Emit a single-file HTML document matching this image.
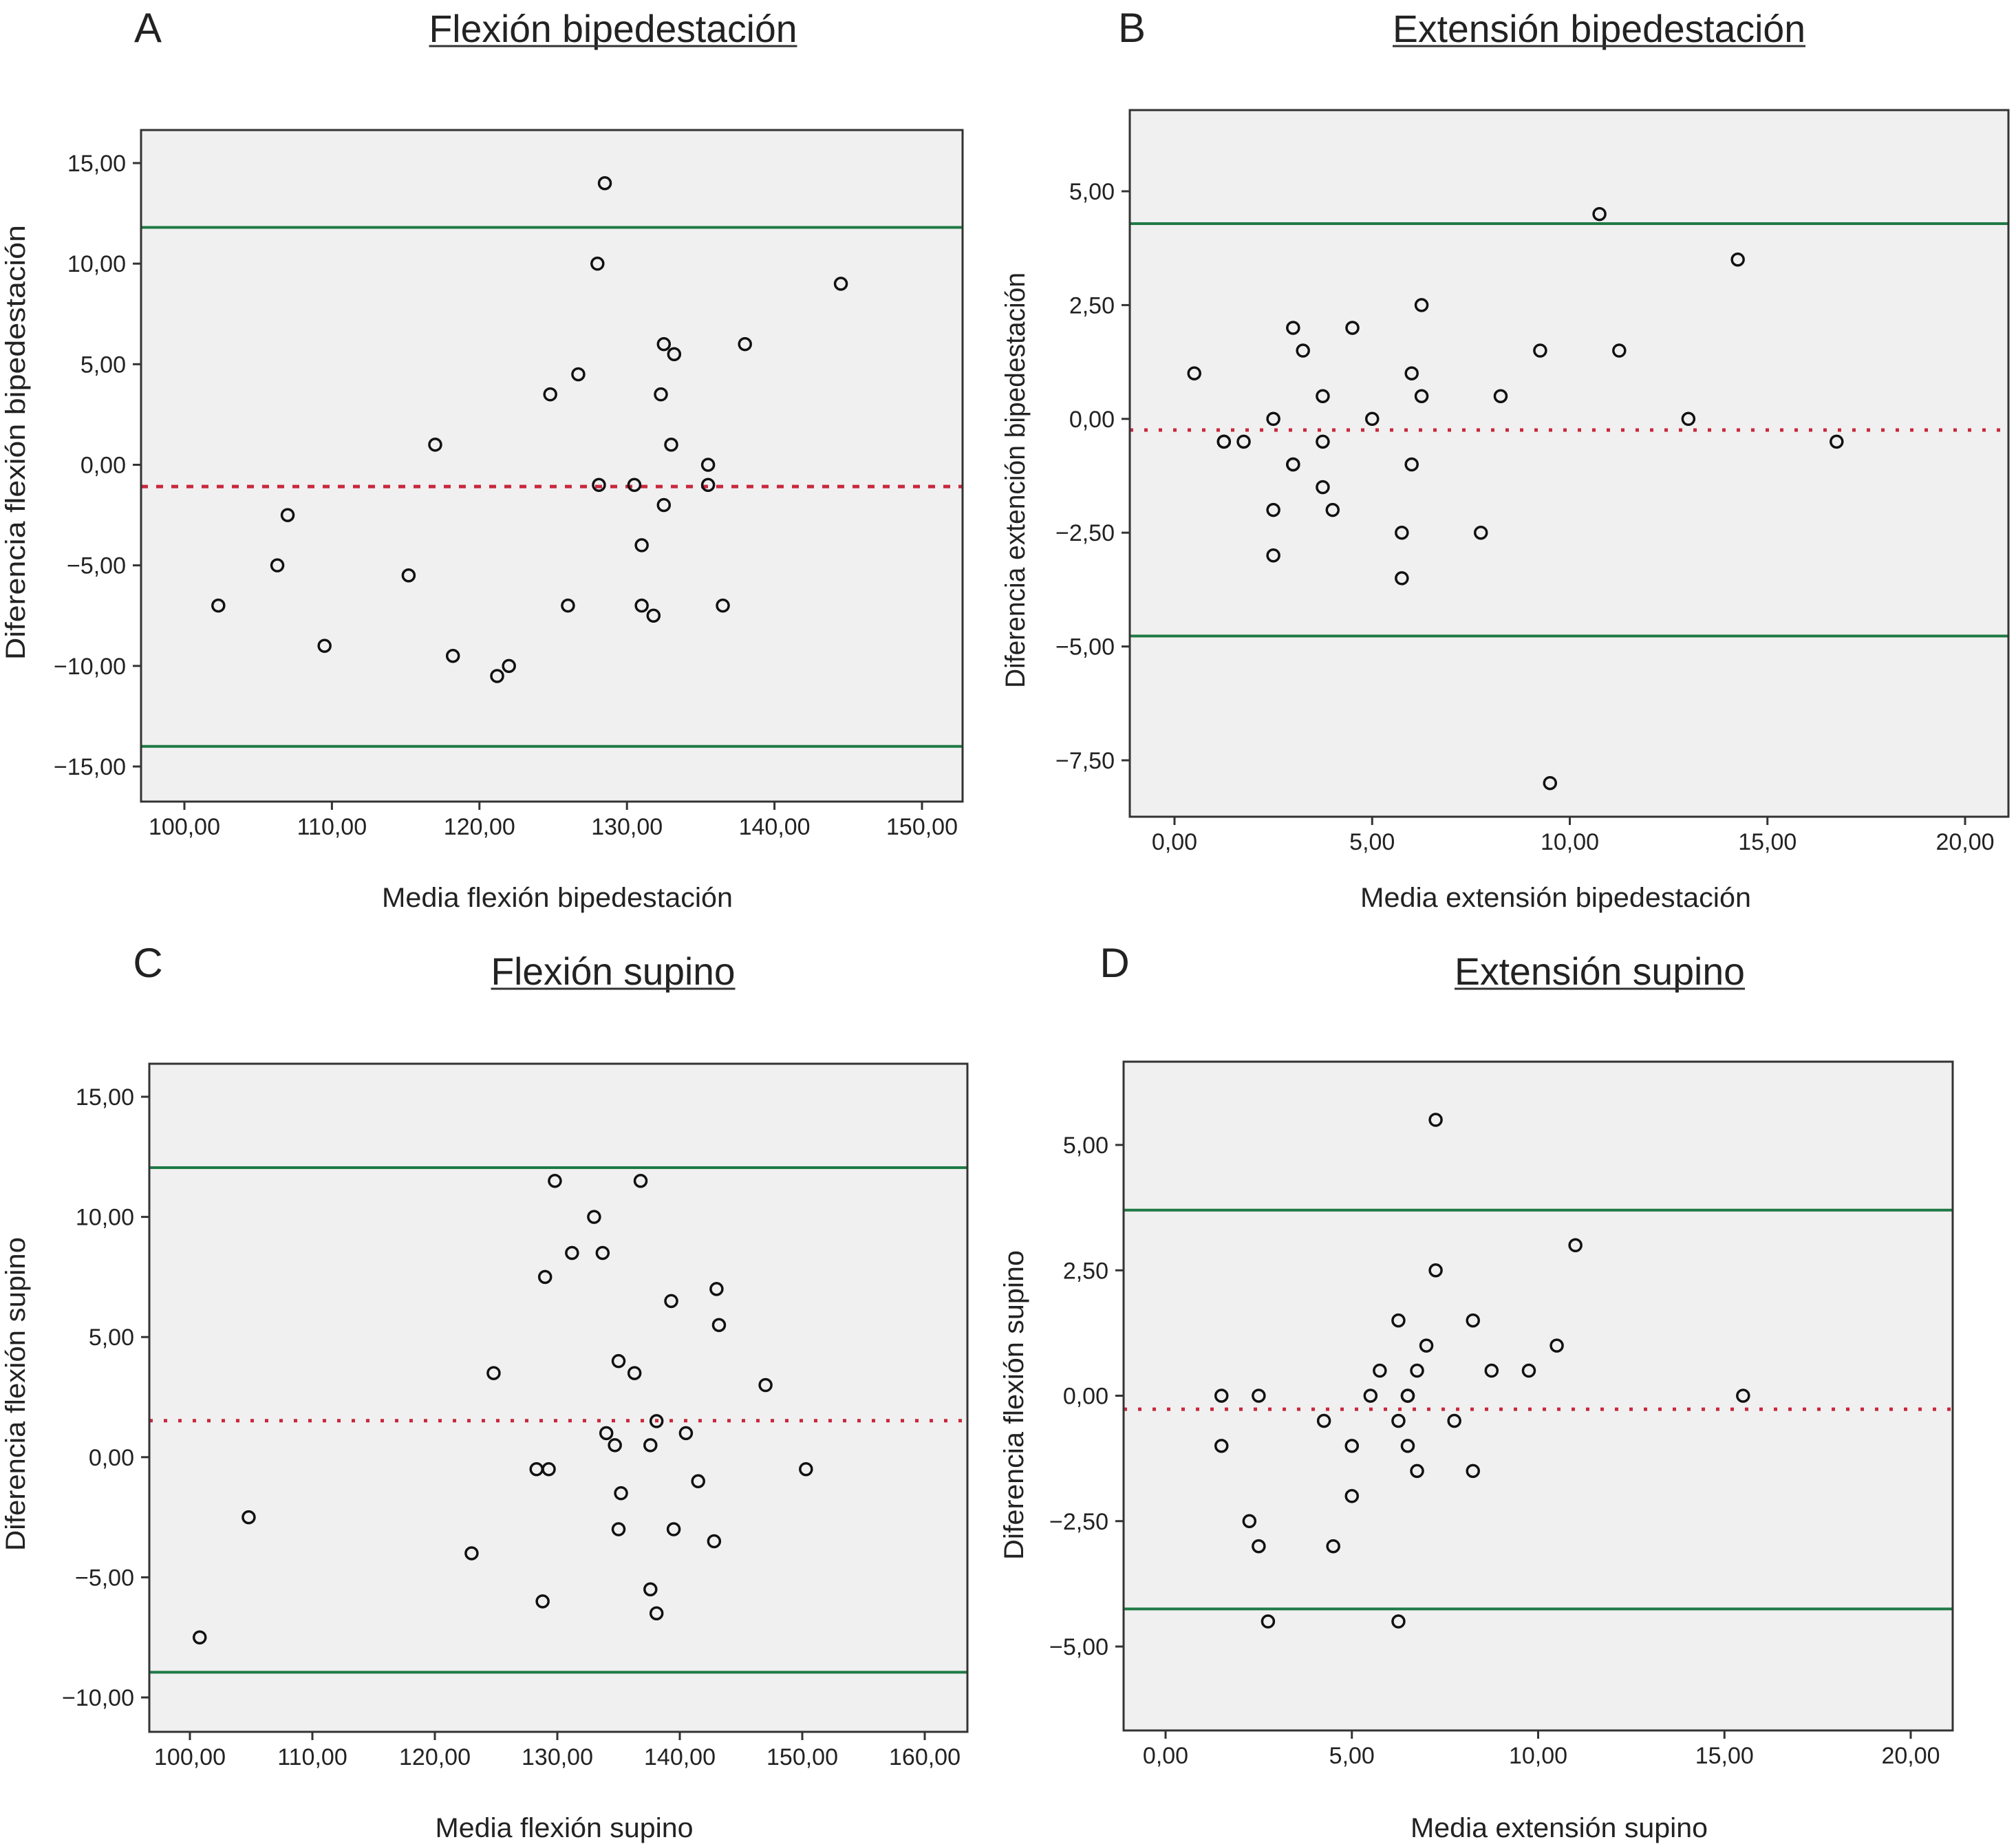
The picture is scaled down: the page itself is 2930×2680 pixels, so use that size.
<!DOCTYPE html>
<html><head><meta charset="utf-8">
<style>
html,body{margin:0;padding:0;background:#fff;}
svg{display:block;font-family:"Liberation Sans",sans-serif;}
</style></head>
<body>
<svg id="fig" width="2930" height="2680" viewBox="0 0 2930 2680" xmlns="http://www.w3.org/2000/svg"></svg>
<script>
// Panel A data
const aX = [102.3,106.3,107,109.5,115.2,117,118.2,121.2,122,124.8,126,126.7,128,128.1,128.5,130.5,131,131,131.8,132.3,132.5,132.5,133,133.2,135.5,135.5,136.5,138,144.5];
const aY = [-7,-5,-2.5,-9,-5.5,1,-9.5,-10.5,-10,3.5,-7,4.5,10,-1,14,-1,-4,-7,-7.5,3.5,6,-2,1,5.5,0,-1,-7,6,9];
const aXTicks = [100,110,120,130,140,150];
const aYTicks = [15,10,5,0,-5,-10,-15];
const aLimits = [11.8,-14.0];
const aMean = [-1.08];
// Panel B data
const bX = [0.5,1.25,1.25,1.75,2.5,2.5,2.5,3,3,3,3.25,3.75,3.75,3.75,4,4.5,5,5.75,5.75,6,6,6.25,6.25,7.75,8.25,9.25,9.5,10.75,11.25,13,14.25,16.75];
const bY = [1,-0.5,-0.5,-0.5,0,-2,-3,2,-1,-1,1.5,0.5,-0.5,-1.5,-2,2,0,-2.5,-3.5,1,-1,2.5,0.5,-2.5,0.5,1.5,-8,4.5,1.5,0,3.5,-0.5];
const bXTicks = [0,5,10,15,20];
const bYTicks = [5,2.5,0,-2.5,-5,-7.5];
const bLimits = [4.29,-4.77];
const bMean = [-0.245];
// Panel C data
const cX = [100.8,104.8,123,124.8,128.3,128.8,129,129.3,129.8,131.2,133,133.7,134,134.7,135,135,135.2,136.3,136.8,137.6,137.6,138.1,138.1,139.3,139.5,140.5,141.5,142.8,143,143.2,147,150.3];
const cY = [-7.5,-2.5,-4,3.5,-0.5,-6,7.5,-0.5,11.5,8.5,10,8.5,1,0.5,4,-3,-1.5,3.5,11.5,0.5,-5.5,1.5,-6.5,6.5,-3,1,-1,-3.5,7,5.5,3,-0.5];
const cXTicks = [100,110,120,130,140,150,160];
const cYTicks = [15,10,5,0,-5,-10];
const cLimits = [12.05,-8.95];
const cMean = [1.52];
// Panel D data
const dX = [1.5,1.5,2.25,2.5,2.5,2.75,4.25,4.5,5,5,5.5,5.75,6.25,6.25,6.25,6.5,6.5,6.5,6.75,6.75,7,7.25,7.25,7.75,8.25,8.25,8.75,9.75,10.5,11,15.5];
const dY = [0,-1,-2.5,0,-3,-4.5,-0.5,-3,-1,-2,0,0.5,1.5,-0.5,-4.5,0,0,-1,0.5,-1.5,1,5.5,2.5,-0.5,1.5,-1.5,0.5,0.5,1,3,0];
const dXTicks = [0,5,10,15,20];
const dYTicks = [5,2.5,0,-2.5,-5];
const dLimits = [3.7,-4.25];
const dMean = [-0.27];

const NS='http://www.w3.org/2000/svg';
const svg=document.getElementById('fig');
function mk(tag,attrs,parent){const e=document.createElementNS(NS,tag);for(const k in attrs)e.setAttribute(k,attrs[k]);(parent||svg).appendChild(e);return e;}
function fmt(v){return (v<0?'\u2212':'')+Math.abs(v).toFixed(2).replace('.',',');}

function panel(id,cfg,xs,ys,xt,yt,lim,mean){
  const g=mk('g',{});
  
  
  const L=cfg.L,R=cfg.R,T=cfg.T,B=cfg.B;
  const sx=v=>cfg.x0p+(v-cfg.x0)*(cfg.x1p-cfg.x0p)/(cfg.x1-cfg.x0);
  const sy=v=>cfg.y0p+(v-cfg.y0)*(cfg.y1p-cfg.y0p)/(cfg.y1-cfg.y0);
  const bg=mk('rect',{x:L,y:T,width:R-L,height:B-T,fill:'#f0f0f0'},g);
  
  
  lim.forEach((v,i)=>{
    const l=mk('line',{x1:L,x2:R,y1:sy(v),y2:sy(v),stroke:'#1f7a45','stroke-width':4},g);
    
    
  });
  mean.forEach(v=>{
    const l=mk('line',{x1:L,x2:R,y1:sy(v),y2:sy(v),stroke:'#c8283c','stroke-width':5,'stroke-dasharray':cfg.dash},g);
    
    
  });
  xs.forEach((x,i)=>{
    const c=mk('circle',{cx:sx(x),cy:sy(ys[i]),r:8.5,fill:'none',stroke:'#111','stroke-width':3.5},g);
    
    
  });
  const fr=mk('rect',{x:L,y:T,width:R-L,height:B-T,fill:'none',stroke:'#333','stroke-width':3},g);
  
  
  xt.forEach(v=>{
    const px=sx(v);
    const t=mk('line',{x1:px,x2:px,y1:B,y2:B+12,stroke:'#333','stroke-width':3},g);
    
    
    const tx=mk('text',{x:px,y:B+48,'font-size':34,'text-anchor':'middle',fill:'#222'},g);
    tx.textContent=fmt(v);
    
    
  });
  yt.forEach(v=>{
    const py=sy(v);
    const t=mk('line',{x1:L-12,x2:L,y1:py,y2:py,stroke:'#333','stroke-width':3},g);
    
    
    const tx=mk('text',{x:L-22,y:py+12,'font-size':34,'text-anchor':'end',fill:'#222'},g);
    tx.textContent=fmt(v);
    
    
  });
  const xtl=mk('text',{x:cfg.xt[0],y:cfg.xt[1],'font-size':40,'text-anchor':'middle',fill:'#222',textLength:cfg.xt[2],lengthAdjust:'spacingAndGlyphs'},g);
  xtl.textContent=cfg.xtitle;
  
  
  const ytl=mk('text',{x:0,y:0,'font-size':40,'text-anchor':'middle',fill:'#222',textLength:cfg.yt[2],lengthAdjust:'spacingAndGlyphs',transform:`translate(${cfg.yt[0]},${cfg.yt[1]}) rotate(-90)`},g);
  ytl.textContent=cfg.ytitle;
  
  
  const tt=mk('text',{x:cfg.tt[0],y:cfg.tt[1],'font-size':56,'text-anchor':'middle',fill:'#222',textLength:cfg.tt[2],lengthAdjust:'spacingAndGlyphs'},g);
  tt.textContent=cfg.title;
  
  
  const ul=mk('line',{x1:cfg.tt[0]-cfg.tt[2]/2,x2:cfg.tt[0]+cfg.tt[2]/2,y1:cfg.tt[1]+6,y2:cfg.tt[1]+6,stroke:'#333','stroke-width':3},g);
  
  
  const lt=mk('text',{x:cfg.lt[0],y:cfg.lt[1],'font-size':60,'text-anchor':'middle',fill:'#222'},g);
  lt.textContent=id;
  
  
}

panel('A',{L:205,R:1399,T:189,B:1165,x0:100,x1:150,x0p:268,x1p:1340,y0:15,y1:-15,y0p:237,y1p:1114,dash:'10 12',
  xtitle:'Media flexión bipedestación',xt:[810,1318,510],ytitle:'Diferencia flexión bipedestación',yt:[36,643,632],
  title:'Flexión bipedestación',tt:[891,61,535],lt:[215,61]},aX,aY,aXTicks,aYTicks,aLimits,aMean);
panel('B',{L:1642,R:2919,T:160,B:1187,x0:0,x1:20,x0p:1707,x1p:2856,y0:5,y1:-7.5,y0p:278,y1p:1105,dash:'5 16',
  xtitle:'Media extensión bipedestación',xt:[2261,1318,568],ytitle:'Diferencia extención bipedestación',yt:[1489,698,604],
  title:'Extensión bipedestación',tt:[2324,61,600],lt:[1645,61]},bX,bY,bXTicks,bYTicks,bLimits,bMean);
panel('C',{L:217,R:1406,T:1546,B:2517,x0:100,x1:160,x0p:276,x1p:1344,y0:15,y1:-10,y0p:1594,y1p:2467,dash:'5 16',
  xtitle:'Media flexión supino',xt:[820,2670,375],ytitle:'Diferencia flexión supino',yt:[36,2026,456],
  title:'Flexión supino',tt:[891,1431,355],lt:[215,1420]},cX,cY,cXTicks,cYTicks,cLimits,cMean);
panel('D',{L:1633,R:2838,T:1543,B:2515,x0:0,x1:20,x0p:1694,x1p:2777,y0:5,y1:-5,y0p:1664,y1p:2393,dash:'5 16',
  xtitle:'Media extensión supino',xt:[2266,2670,432],ytitle:'Diferencia flexión supino',yt:[1487,2042,450],
  title:'Extensión supino',tt:[2325,1431,422],lt:[1620,1420]},dX,dY,dXTicks,dYTicks,dLimits,dMean);
</script>
</body></html>
